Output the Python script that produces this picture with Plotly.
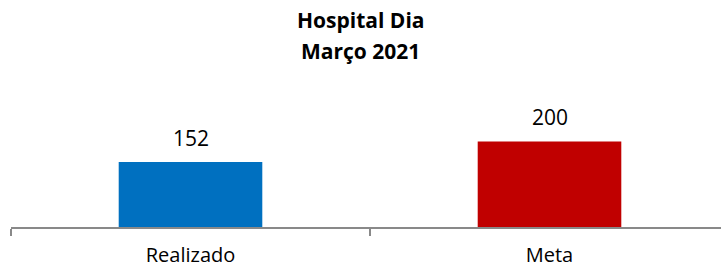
import plotly.graph_objects as go

categories = ["Realizado", "Meta"]
values = [152, 200]
colors = ["#0070C0", "#C00000"]
title_lines = ["Hospital Dia", "Março 2021"]

FONT = "Open Sans"
W, H = 721, 267
M_T, M_B, M_L = 100, 40, 11
plot_h = H - M_T - M_B

fig = go.Figure(go.Bar(
    x=categories, y=values, marker_color=colors, width=0.4,
    marker_line_width=0, hoverinfo="x+y",
))

# data labels
for c, v in zip(categories, values):
    fig.add_annotation(x=c, y=v, text=str(v), showarrow=False,
                       yanchor="middle", yshift=24,
                       font=dict(size=21, family=FONT, color="#000000"))

# title lines
title_pix = [20, 51]
for t, py in zip(title_lines, title_pix):
    fig.add_annotation(xref="paper", yref="paper",
                       x=(W / 2 - M_L) / (W - M_L), y=(H - M_B - py) / plot_h,
                       text="<b>" + t + "</b>", showarrow=False,
                       xanchor="center", yanchor="middle",
                       font=dict(size=21, family=FONT, color="#000000"))

fig.update_layout(
    width=W, height=H,
    margin=dict(l=M_L, r=0, t=M_T, b=M_B, autoexpand=False),
    paper_bgcolor="white", plot_bgcolor="white",
    showlegend=False,
    xaxis=dict(range=[-0.5, 1.5 - 8 / 359], showline=True, linecolor="#898989", linewidth=1.5,
               ticks="outside", tickson="boundaries", ticklen=7, tickwidth=1.5,
               tickcolor="#898989", ticklabelstandoff=9,
               tickfont=dict(size=20, family=FONT, color="#000000"),
               showgrid=False, fixedrange=True),
    yaxis=dict(range=[0, 297], visible=False, showgrid=False, fixedrange=True),
)

fig.write_html("out.html", config={"displayModeBar": False},
               post_script="document.body.style.margin='0';document.body.style.overflow='hidden';")
